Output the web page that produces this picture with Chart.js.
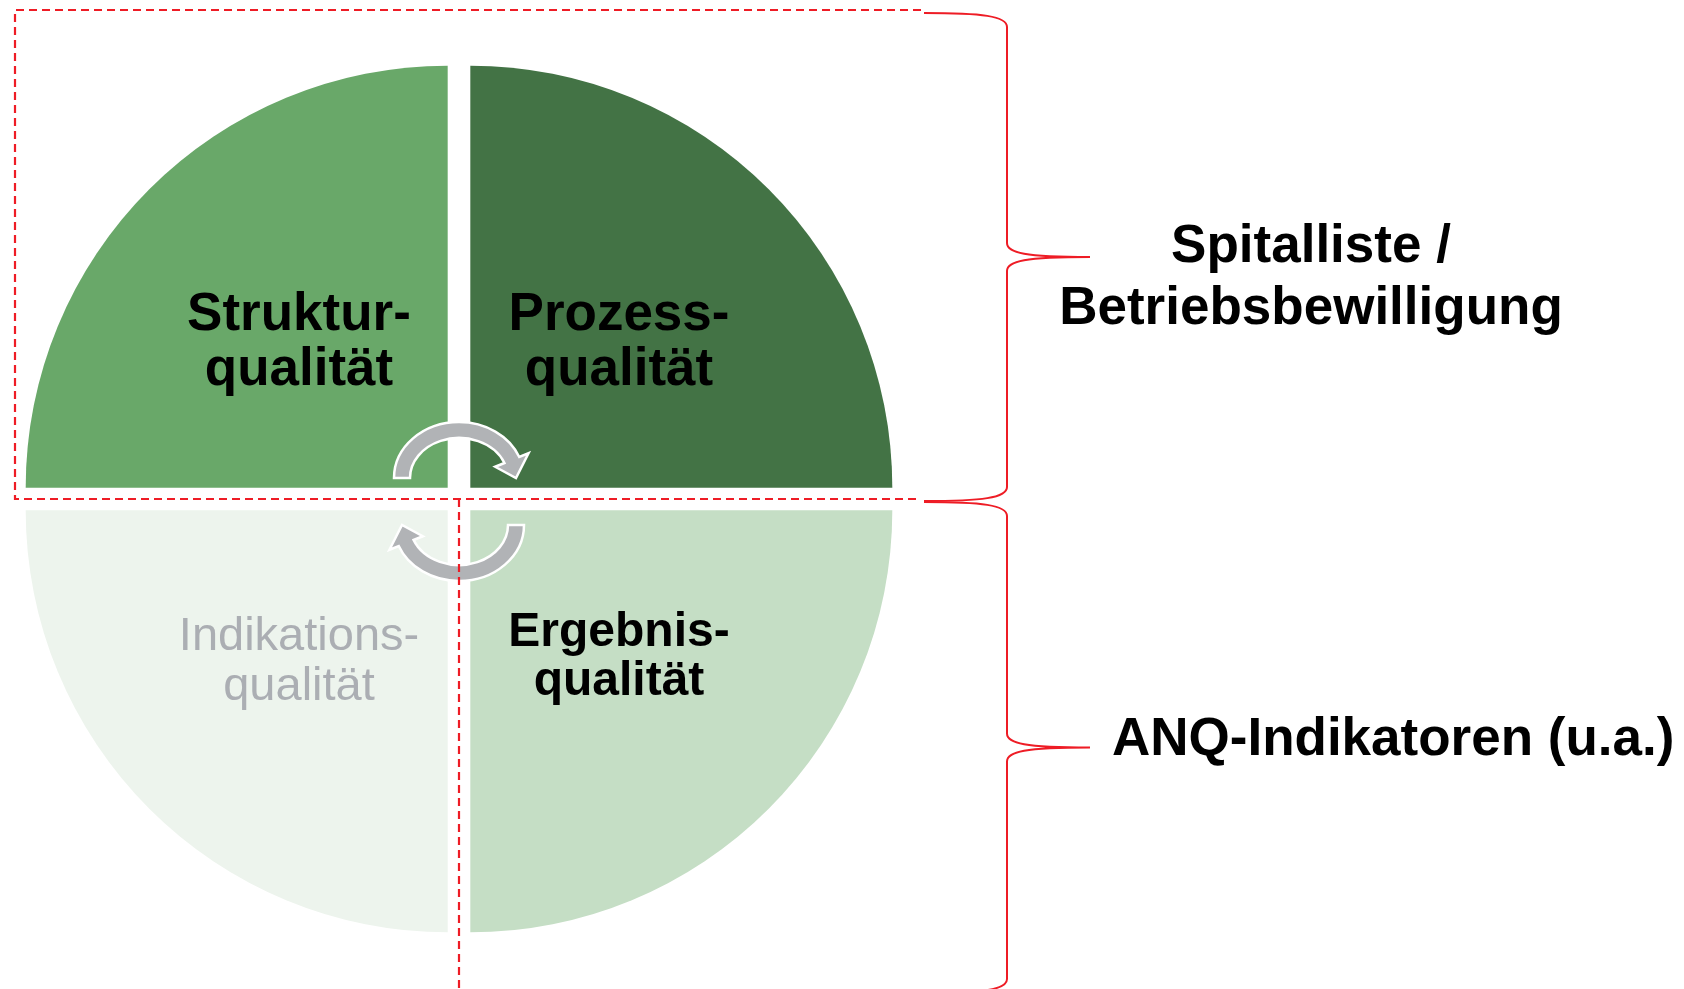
<!DOCTYPE html>
<html>
<head>
<meta charset="utf-8">
<script src="https://cdn.jsdelivr.net/npm/chart.js"></script>
<style>
html, body { margin:0; padding:0; background:#ffffff; }
#wrap { width:1684px; height:989px; position:relative; }
</style>
</head>
<body>
<div id="wrap"><canvas id="qualityChart"></canvas></div>
<script>
// quadrants, clockwise from 12 o'clock (Chart.js pie start)
const quadrants   = ["Prozessqualität", "Ergebnisqualität", "Indikationsqualität", "Strukturqualität"];
const shares      = [25, 25, 25, 25];
const quadColors  = ["#437345", "#c5dec5", "#edf4ed", "#69a869"];
const quadLines   = [["Prozess-", "qualität"], ["Ergebnis-", "qualität"], ["Indikations-", "qualität"], ["Struktur-", "qualität"]];
// labels of the two red braces on the right
const groupLabels = [["Spitalliste /", "Betriebsbewilligung"], ["ANQ-Indikatoren (u.a.)"]];

const FONT = "'Liberation Sans', Arial, sans-serif";
const labelStyle = [
    {font: "bold 53px " + FONT, color: "#000000", dy: [-169, -114]},
    {font: "bold 48px " + FONT, color: "#000000", dy: [147, 196]},
    {font: "47px " + FONT,      color: "#abaeb3", dy: [151, 201]},
    {font: "bold 53px " + FONT, color: "#000000", dy: [-169, -114]}
];

// curved arrow (elliptic band with arrow head), angles in degrees
function curvedArrow(ctx, cx, cy, rx, ry, band, a0, aBase, aTip, head) {
    const d2r = Math.PI / 180;
    const pt = (a, d) => [cx + (rx + d) * Math.cos(a * d2r), cy + (ry + d) * Math.sin(a * d2r)];
    const h = band / 2;
    ctx.beginPath();
    ctx.ellipse(cx, cy, rx + h, ry + h, 0, a0 * d2r, aBase * d2r, false);
    let p = pt(aBase, head / 2); ctx.lineTo(p[0], p[1]);
    p = pt(aTip, 0);             ctx.lineTo(p[0], p[1]);
    p = pt(aBase, -head / 2);    ctx.lineTo(p[0], p[1]);
    ctx.ellipse(cx, cy, rx - h, ry - h, 0, aBase * d2r, a0 * d2r, true);
    ctx.closePath();
    ctx.fillStyle = "#b1b3b6";
    ctx.fill();
    ctx.lineWidth = 2.5;
    ctx.strokeStyle = "#ffffff";
    ctx.stroke();
}

// curly brace opening to the right
function brace(ctx, x0, x1, xt, yTop, yBot) {
    const ym = (yTop + yBot) / 2;
    ctx.beginPath();
    ctx.moveTo(x0, yTop);
    ctx.bezierCurveTo(x1 - 25, yTop, x1, yTop + 3, x1, yTop + 14);
    ctx.lineTo(x1, ym - 14);
    ctx.bezierCurveTo(x1, ym - 4, x1 + 18, ym, xt, ym);
    ctx.bezierCurveTo(x1 + 18, ym, x1, ym + 4, x1, ym + 14);
    ctx.lineTo(x1, yBot - 14);
    ctx.bezierCurveTo(x1, yBot - 3, x1 - 25, yBot, x0, yBot);
    ctx.stroke();
}

const decoPlugin = {
    id: "deco",
    afterDatasetsDraw(chart) {
        const ctx = chart.ctx;
        const arcs = chart.getDatasetMeta(0).data;
        const cx = arcs[0].x, cy = arcs[0].y, R = arcs[0].outerRadius;
        ctx.save();

        // quadrant labels
        ctx.textAlign = "center";
        ctx.textBaseline = "alphabetic";
        arcs.forEach((arc, i) => {
            const mid = (arc.startAngle + arc.endAngle) / 2;
            const x = cx + Math.sign(Math.cos(mid)) * 160;
            ctx.font = labelStyle[i].font;
            ctx.fillStyle = labelStyle[i].color;
            quadLines[i].forEach((line, j) => ctx.fillText(line, x, cy + labelStyle[i].dy[j]));
        });

        // cycle arrows in the middle
        curvedArrow(ctx, cx, cy - 21, 57, 48, 16, 180, 338, 360, 36);
        curvedArrow(ctx, cx, cy + 26, 57, 48, 16, 0, 158, 180, 36);

        // dashed red frame + vertical line
        const left = cx - R - 22, top = cy - R - 67, right = cx + R + 40;
        ctx.strokeStyle = "#ee1c25";
        ctx.lineWidth = 2.2;
        ctx.setLineDash([8, 5]);
        ctx.beginPath();
        ctx.moveTo(right, top); ctx.lineTo(left, top); ctx.lineTo(left, cy); ctx.lineTo(right, cy);
        ctx.moveTo(cx, cy); ctx.lineTo(cx, chart.height);
        ctx.stroke();
        ctx.setLineDash([]);

        // braces
        const bx0 = cx + R + 43, bx1 = cx + R + 126, btip = cx + R + 209;
        ctx.lineWidth = 2;
        brace(ctx, bx0, bx1, btip, top + 3, cy + 2);
        brace(ctx, bx0, bx1, btip, cy + 3, chart.height + 4);

        // brace labels
        ctx.fillStyle = "#000000";
        ctx.font = "bold 53px " + FONT;
        ctx.textAlign = "center";
        ctx.fillText(groupLabels[0][0], cx + 852, 262);
        ctx.fillText(groupLabels[0][1], cx + 852, 324);
        ctx.textAlign = "left";
        ctx.fillText(groupLabels[1][0], btip + 22, 755);

        ctx.restore();
    }
};

new Chart(document.getElementById("qualityChart"), {
    type: "pie",
    data: {
        labels: quadrants,
        datasets: [{
            data: shares,
            backgroundColor: quadColors,
            borderWidth: 0,
            offset: 64,
            hoverOffset: 0,
            radius: 422
        }]
    },
    options: {
        responsive: true,
        maintainAspectRatio: false,
        animation: false,
        events: [],
        layout: { padding: { left: 0, right: 766, top: 9, bottom: 0 } },
        plugins: {
            legend: { display: false },
            tooltip: { enabled: false }
        }
    },
    plugins: [decoPlugin]
});
</script>
</body>
</html>
